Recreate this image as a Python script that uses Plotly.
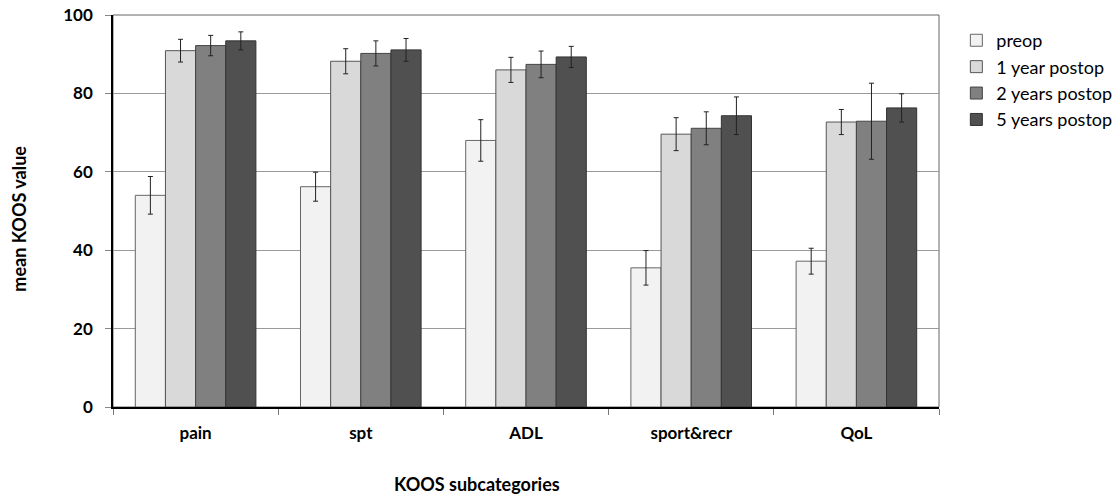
import plotly.graph_objects as go

categories = ["pain", "spt", "ADL", "sport&recr", "QoL"]
series_names = ["preop", "1 year postop", "2 years postop", "5 years postop"]

preop = [54.0, 56.2, 68.0, 35.5, 37.2]
year1 = [90.9, 88.2, 86.0, 69.6, 72.7]
year2 = [92.2, 90.2, 87.4, 71.1, 72.9]
year5 = [93.4, 91.1, 89.3, 74.3, 76.3]

preop_err = [4.8, 3.7, 5.3, 4.4, 3.3]
year1_err = [2.9, 3.2, 3.2, 4.2, 3.2]
year2_err = [2.6, 3.2, 3.4, 4.2, 9.7]
year5_err = [2.3, 2.9, 2.7, 4.8, 3.6]

y_ticks = [0, 20, 40, 60, 80, 100]

values = [preop, year1, year2, year5]
errors = [preop_err, year1_err, year2_err, year5_err]
fills = ["#f2f2f2", "#d9d9d9", "#808080", "#505050"]
outlines = ["#666666", "#555555", "#444444", "#333333"]

fig = go.Figure()
for i, (name, v, e) in enumerate(zip(series_names, values, errors)):
    fig.add_trace(go.Bar(
        x=categories, y=v, name=name,
        marker=dict(color=fills[i], line=dict(color=outlines[i], width=1)),
        error_y=dict(type="data", array=e, visible=True, color="#222222",
                     thickness=1, width=2.5),
        legendgroup=name,
    ))

font_family = "Lato, 'Open Sans', sans-serif"

fig.update_layout(
    width=1119, height=495,
    margin=dict(l=113, r=180, t=15, b=88, autoexpand=False),
    paper_bgcolor="white", plot_bgcolor="white",
    barmode="group", bargap=0.27, bargroupgap=0,
    font=dict(family=font_family, color="#000000"),
    showlegend=True,
    legend=dict(x=1.021, y=0.982, xanchor="left", yanchor="top",
                font=dict(size=18, family=font_family, color="#000"),
                tracegroupgap=0, itemwidth=30, bgcolor="rgba(0,0,0,0)"),
    xaxis=dict(
        type="category", automargin=False,
        tickfont=dict(size=17, family=font_family, color="#000", weight="bold"),
        ticks="outside", tickson="boundaries", ticklen=6, tickcolor="#777",
        ticklabelstandoff=10,
        showline=True, linecolor="#000", linewidth=1.5,
        showgrid=False, zeroline=False,
    ),
    yaxis=dict(
        range=[0, 100], tickvals=y_ticks, automargin=False,
        tickfont=dict(size=17, family=font_family, color="#000", weight="bold"),
        ticks="outside", ticklen=6, tickcolor="#888",
        ticklabelstandoff=9, ticklabeloverflow="allow",
        showline=True, linecolor="#000", linewidth=1.5,
        showgrid=True, gridcolor="#9a9a9a", gridwidth=1,
        zeroline=False,
    ),
    shapes=[dict(type="rect", xref="paper", yref="paper", x0=0, x1=1, y0=0, y1=1,
                 line=dict(color="#666666", width=1), layer="below")],
    annotations=[
        dict(text="<b>KOOS subcategories</b>", xref="paper", yref="paper",
             x=0.441, y=-0.196, xanchor="center", yanchor="middle", showarrow=False,
             font=dict(size=18, family=font_family, color="#000")),
        dict(text="<b>mean KOOS value</b>", xref="paper", yref="paper",
             x=-0.114, y=0.48, xanchor="center", yanchor="middle", showarrow=False,
             textangle=-90, font=dict(size=18, family=font_family, color="#000")),
    ],
)

fig.write_html("out.html", config={"displayModeBar": False},
               post_script="document.body.style.margin='0';document.body.style.overflow='hidden';")
